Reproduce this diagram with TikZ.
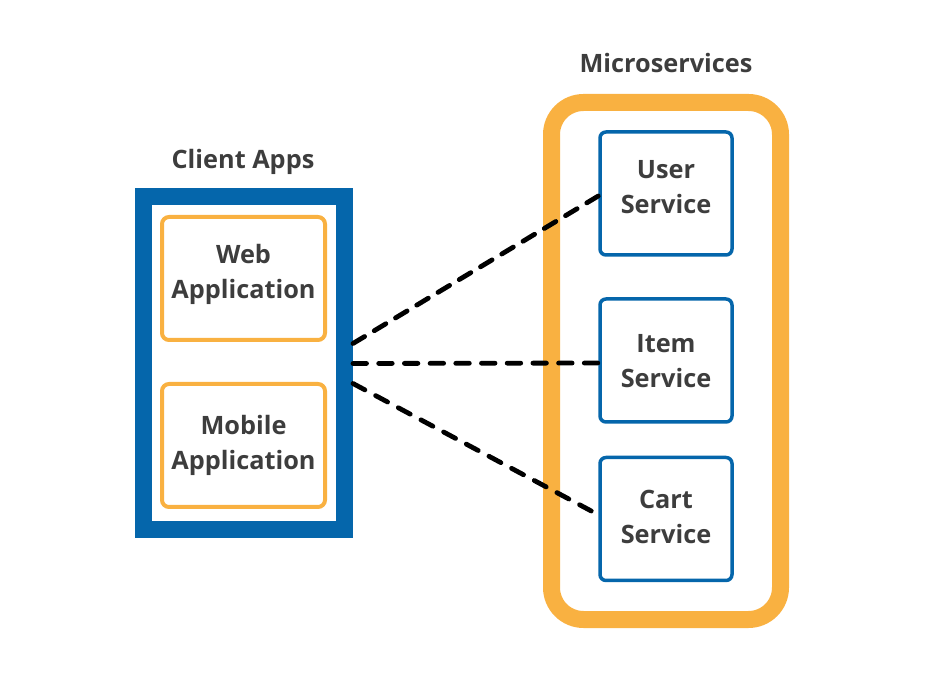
\documentclass[tikz,border=0pt]{standalone}
\usepackage{fontspec}
\setmainfont{Open Sans}
\definecolor{cblue}{HTML}{0566AB}
\definecolor{corange}{HTML}{F9B141}
\definecolor{ctext}{HTML}{3D3D3D}
\tikzset{
  every node/.style={font=\bfseries\fontsize{25.3pt}{35pt}\selectfont, text=ctext, align=center},
  txt/.style={inner sep=0pt},
  container/.style={draw=cblue, line width=17pt, minimum width=201pt, minimum height=333pt, inner sep=0pt},
  appbox/.style={draw=corange, line width=4pt, rounded corners=7pt, minimum width=163pt, minimum height=123pt, inner sep=0pt},
  svcgroup/.style={draw=corange, line width=17pt, rounded corners=32pt, minimum width=229pt, minimum height=517pt, inner sep=0pt},
  svcbox/.style={draw=cblue, line width=3.5pt, rounded corners=6pt, minimum width=132pt, minimum height=123pt, inner sep=0pt},
  link/.style={line width=4.8pt, line cap=round, dash pattern=on 13.5pt off #1},
  link/.default=12pt
}
\begin{document}
\begin{tikzpicture}[x=1pt, y=-1pt]
\useasboundingbox (0,0) rectangle (946,684);
% containers
\node[container] (client) at (244,363.5) {};
\node[svcgroup] (micro) at (666,361) {};
% titles
\node[txt] (clienttitle) at (243,162) {Client Apps};
\node[txt] (microtitle) at (666,63) {Microservices};
% apps
\node[appbox] (web) at (243.5,278.5) {};
\node[appbox] (mobile) at (243.5,445.5) {};
\node[txt] (webtext) at (243.5,274.5) {Web\\Application};
\node[txt] (mobiletext) at (243.5,445.5) {Mobile\\Application};
% services
\node[svcbox] (user) at (666,193.5) {};
\node[svcbox] (item) at (666,360.5) {};
\node[svcbox] (cart) at (666,519) {};
\node[txt] (usertext) at (666,187.5) {User\\Service};
\node[txt] (itemtext) at (666,361.5) {Item\\Service};
\node[txt] (carttext) at (666,517) {Cart\\Service};
% connectors
\coordinate (c1) at ([yshift=20pt]client.east);
\coordinate (c2) at (client.east);
\coordinate (c3) at ([yshift=-20pt]client.east);
\coordinate (u1) at ([yshift=-2.5pt]user.west);
\coordinate (i1) at ([yshift=-2.5pt]item.west);
\coordinate (k1) at ([xshift=-7pt,yshift=8pt]cart.west);
\draw[link=11.3pt] (c1) -- (u1);
\draw[link=12.2pt] (c2) -- (i1);
\draw[link=12.2pt] (c3) -- (k1);
\end{tikzpicture}
\end{document}
